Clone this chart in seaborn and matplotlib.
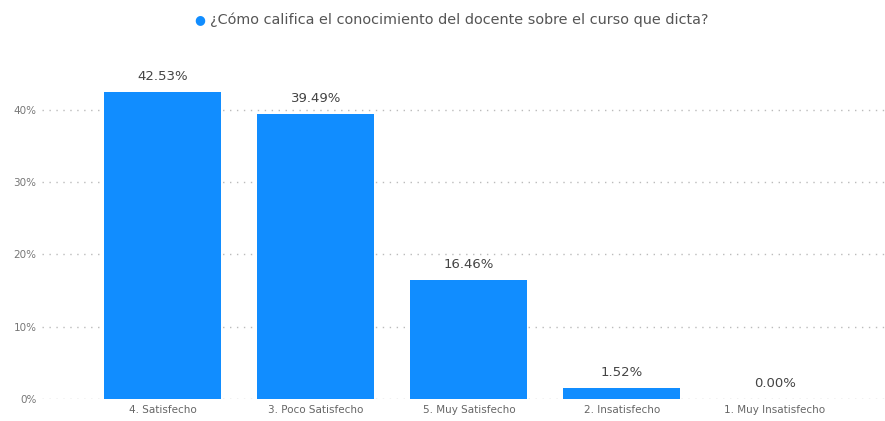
import seaborn as sns
import matplotlib.pyplot as plt
import pandas as pd

# datos
categorias = ["4. Satisfecho", "3. Poco Satisfecho", "5. Muy Satisfecho",
              "2. Insatisfecho", "1. Muy Insatisfecho"]
porcentajes = [42.53, 39.49, 16.46, 1.52, 0.00]
ticks_y = [0, 10, 20, 30, 40]
titulo = "¿Cómo califica el conocimiento del docente sobre el curso que dicta?"

sns.set_theme(style="white")
plt.rcParams['font.family'] = ['DejaVu Sans']

df = pd.DataFrame({"categoria": categorias, "pct": porcentajes})

fig = plt.figure(figsize=(8.85, 4.21), dpi=100)
ax = fig.add_axes([42 / 885, 1 - 399 / 421, 1 - 42 / 885, (399 - 81) / 421])

azul = "#118DFF"
sns.barplot(data=df, x="categoria", y="pct", color=azul, width=0.765,
            saturation=1, ax=ax, zorder=3, linewidth=0)

ax.set_ylim(0, 44)
ax.set_xlim(-0.79, 4.72)
ax.set_yticks(ticks_y)
ax.set_yticklabels([f"{t}%" for t in ticks_y], fontsize=7.5, color="#777777")
ax.tick_params(axis="x", labelsize=7.5, labelcolor="#666666", length=0, pad=4)
ax.tick_params(axis="y", length=0, pad=4)
ax.set_xlabel("")
ax.set_ylabel("")
for s in ax.spines.values():
    s.set_visible(False)
ax.yaxis.grid(True, linestyle=(0, (1, 4)), color="#bbbbbb", linewidth=1, zorder=0)

# etiquetas de datos
for i, v in enumerate(porcentajes):
    ax.text(i, v + 1.2, f"{v:.2f}%", ha="center", va="bottom",
            fontsize=9.5, color="#444444")

# leyenda tipo Power BI
fig.text(200 / 885, 1 - 20 / 421, "●", color=azul, fontsize=9,
         ha="center", va="center")
fig.text(210 / 885, 1 - 20 / 421, titulo, color="#555555", fontsize=10.4,
         ha="left", va="center")

fig.savefig("out.png", dpi=100)
